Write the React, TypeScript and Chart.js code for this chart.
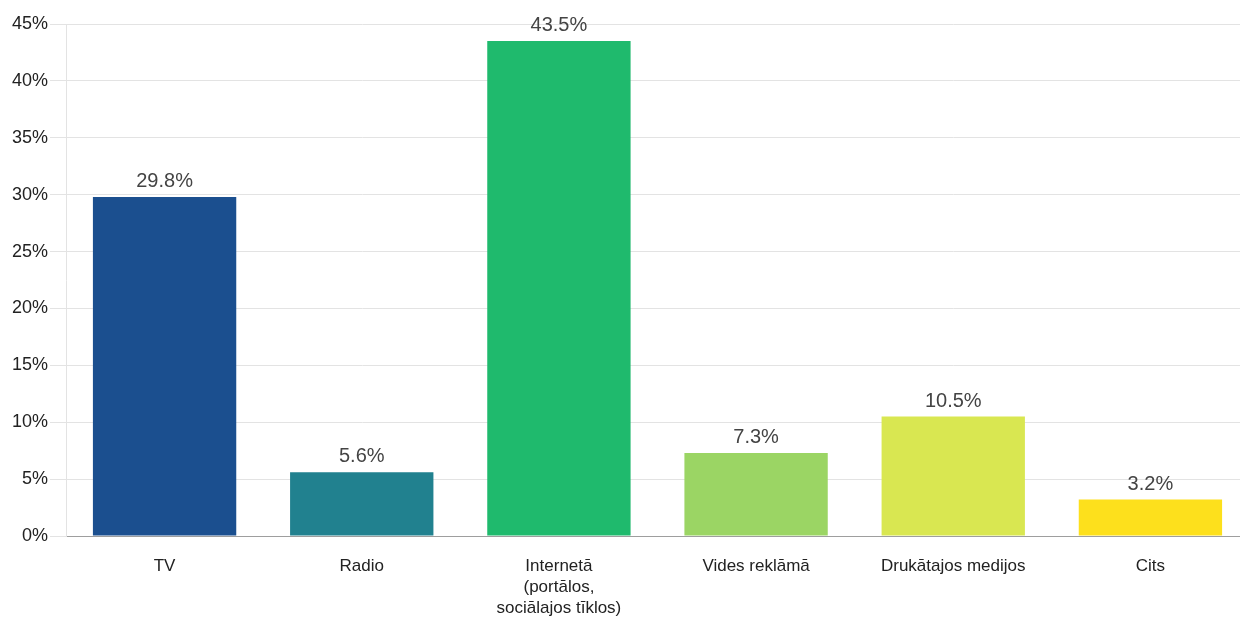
import React, { useEffect, useRef } from "react";
import { Chart, registerables } from "chart.js";

Chart.register(...registerables);

const categories: (string | string[])[] = [
  "TV",
  "Radio",
  ["Internetā", "(portālos,", "sociālajos tīklos)"],
  "Vides reklāmā",
  "Drukātajos medijos",
  "Cits",
];
const values: number[] = [29.8, 5.6, 43.5, 7.3, 10.5, 3.2];
const barColors: string[] = ["#1b4f8f", "#21818f", "#1fba6d", "#9bd564", "#d9e751", "#fde01c"];
const yTicks: number[] = [0, 5, 10, 15, 20, 25, 30, 35, 40, 45];

const FONT = "'Liberation Sans', Arial, Helvetica, sans-serif";

const valueLabels = {
  id: "valueLabels",
  afterDatasetsDraw(chart: any) {
    const ctx = chart.ctx;
    const meta = chart.getDatasetMeta(0);
    ctx.save();
    ctx.font = `20px ${FONT}`;
    ctx.fillStyle = "#444444";
    ctx.textAlign = "center";
    ctx.textBaseline = "alphabetic";
    meta.data.forEach((bar: any, i: number) => {
      ctx.fillText(values[i].toFixed(1) + "%", bar.x, bar.y - 10);
    });
    ctx.restore();
  },
};

export default function App() {
  const ref = useRef<HTMLCanvasElement | null>(null);
  useEffect(() => {
    if (!ref.current) return;
    const chart = new Chart(ref.current, {
      type: "bar",
      data: {
        labels: categories,
        datasets: [
          {
            data: values,
            backgroundColor: barColors,
            borderWidth: 0,
            categoryPercentage: 1,
            barPercentage: 0.727,
          },
        ],
      },
      plugins: [valueLabels],
      options: {
        animation: false,
        responsive: false,
        maintainAspectRatio: false,
        layout: { padding: { top: 24, right: 1, left: 0, bottom: 0 } },
        plugins: { legend: { display: false }, tooltip: { enabled: false } },
        scales: {
          x: {
            grid: { display: false, drawTicks: false },
            border: { display: true, color: "#9e9e9e", width: 1 },
            ticks: {
              color: "#222222",
              font: { family: FONT, size: 17, lineHeight: 1.22 },
              padding: 20,
              maxRotation: 0,
              autoSkip: false,
            },
            afterFit: (s: any) => {
              s.height = 82;
            },
          },
          y: {
            min: 0,
            max: 45,
            afterBuildTicks: (s: any) => {
              s.ticks = yTicks.map((v) => ({ value: v }));
            },
            grid: { color: "#e3e3e3", drawTicks: true, tickLength: 16, tickColor: "#e3e3e3" },
            border: { display: true, color: "#e3e3e3" },
            ticks: {
              color: "#222222",
              font: { family: FONT, size: 18 },
              padding: 2,
              callback: (v: any) => v + "%",
            },
            afterFit: (s: any) => {
              s.width = 66;
            },
          },
        },
      },
    });
    return () => chart.destroy();
  }, []);
  return (
    <div style={{ position: "fixed", left: 0, top: 0, width: 1240, height: 618, overflow: "hidden", background: "#fff" }}>
      <canvas ref={ref} width={1250} height={618} style={{ display: "block" }} />
    </div>
  );
}
